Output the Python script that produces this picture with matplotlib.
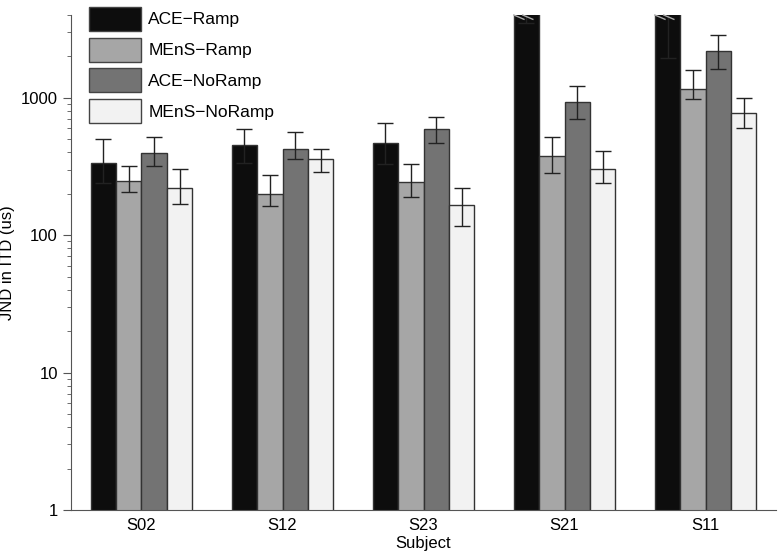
import numpy as np
import matplotlib
matplotlib.use("Agg")
import matplotlib.pyplot as plt

plt.rcParams['font.family'] = ['Liberation Sans', 'DejaVu Sans']

subjects = ['S02', 'S12', 'S23', 'S21', 'S11']
conditions = ['ACE\u2212Ramp', 'MEnS\u2212Ramp', 'ACE\u2212NoRamp', 'MEnS\u2212NoRamp']
colors = ['#0d0d0d', '#a6a6a6', '#737373', '#f2f2f2']

# JND values (us) per condition, per subject
ace_ramp = [335, 450, 470, 6000, 6000]
mens_ramp = [247, 198, 242, 374, 1162]
ace_noramp = [395, 427, 596, 935, 2190]
mens_noramp = [219, 356, 165, 301, 780]

# error bar lower / upper ends
ace_ramp_lo = [238, 337, 330, 3500, 1950]
ace_ramp_hi = [505, 596, 660, 9000, 9000]
mens_ramp_lo = [205, 162, 188, 281, 982]
mens_ramp_hi = [316, 272, 331, 514, 1590]
ace_noramp_lo = [321, 361, 470, 705, 1625]
ace_noramp_hi = [514, 567, 721, 1222, 2860]
mens_noramp_lo = [168, 286, 116, 238, 605]
mens_noramp_hi = [301, 427, 222, 413, 1000]

vals = [ace_ramp, mens_ramp, ace_noramp, mens_noramp]
los = [ace_ramp_lo, mens_ramp_lo, ace_noramp_lo, mens_noramp_lo]
his = [ace_ramp_hi, mens_ramp_hi, ace_noramp_hi, mens_noramp_hi]

ytop = 4000

fig = plt.figure(figsize=(7.8, 5.55), dpi=100)
ax = fig.add_axes([0.091, 0.081, 0.904, 0.892])

x = np.arange(1, len(subjects) + 1)
w = 0.18
for i in range(4):
    xi = x + (i - 1.5) * w
    v = np.array(vals[i], dtype=float)
    ax.bar(xi, v, width=w, color=colors[i], edgecolor='#333333', linewidth=1.0,
           label=conditions[i], zorder=2)
    lo = v - np.array(los[i])
    hi = np.array(his[i]) - v
    ax.errorbar(xi, v, yerr=[lo, hi], fmt='none', ecolor='#222222',
                elinewidth=1.0, capsize=6, capthick=1.0, zorder=3)
    # break marks on the bars that run off the top
    for xx, vv in zip(xi, v):
        if vv > ytop:
            for d in (-0.35, 0.0):
                xs = [xx - w / 2 + (d + 0.35) * w, xx - w / 2 + (d + 0.75) * w]
                ax.plot(xs, [ytop * 1.0, ytop * 0.93], color='#aaaaaa', lw=1.0,
                        zorder=4, clip_on=False)

ax.set_yscale('log')
ax.set_ylim(1, ytop)
ax.set_xlim(0.5, 5.5)
ax.set_xticks(x)
ax.set_xticklabels(subjects, fontsize=12)
ax.set_yticks([1, 10, 100, 1000])
ax.set_yticklabels(['1', '10', '100', '1000'], fontsize=12)
ax.tick_params(axis='x', length=0, pad=6)
ax.tick_params(axis='y', which='major', direction='out', length=6, color='#555555')
ax.tick_params(axis='y', which='minor', direction='out', length=3, color='#555555')
ax.set_xlabel('Subject', fontsize=12, labelpad=2)
ax.set_ylabel('JND in ITD (us)', fontsize=12)

for s in ['top', 'right']:
    ax.spines[s].set_visible(False)
for s in ['left', 'bottom']:
    ax.spines[s].set_color('#555555')

leg = ax.legend(loc='upper left', bbox_to_anchor=(0.011, 1.038), frameon=False,
                fontsize=12.5, handlelength=3.0, handleheight=1.75,
                labelspacing=0.4, handletextpad=0.4, borderaxespad=0.2)
for p in leg.get_patches():
    p.set_edgecolor('#444444')

fig.savefig('out.png', dpi=100)
